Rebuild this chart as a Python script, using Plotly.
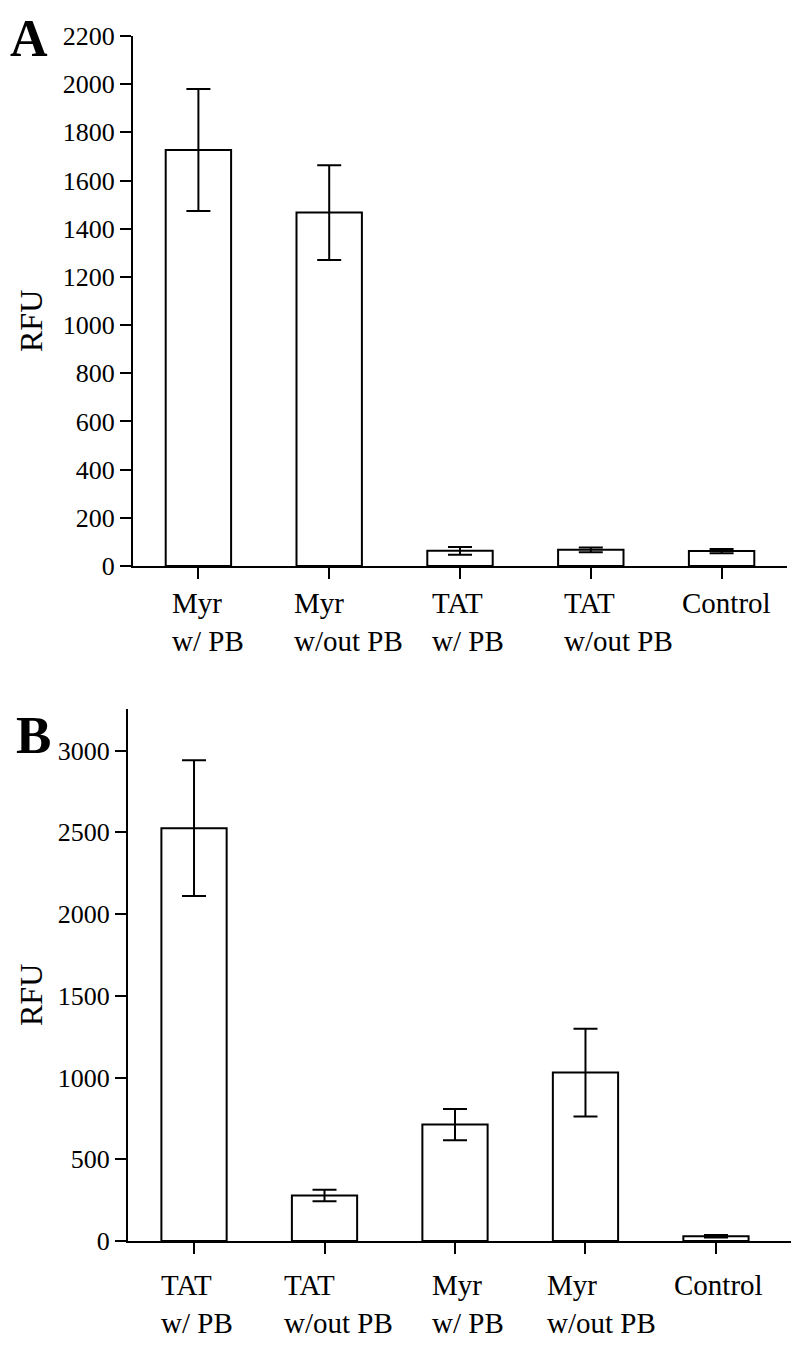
import plotly.graph_objects as go

# ---- data ----
cats_a = ["Myr w/ PB", "Myr w/out PB", "TAT w/ PB", "TAT w/out PB", "Control"]
vals_a = [1727, 1467, 63, 67, 62]
err_a = [253, 197, 16, 10, 9]

cats_b = ["TAT w/ PB", "TAT w/out PB", "Myr w/ PB", "Myr w/out PB", "Control"]
vals_b = [2525, 278, 712, 1030, 29]
err_b = [415, 35, 95, 268, 8]

yticks_a = list(range(0, 2201, 200))
yticks_b = list(range(0, 3001, 500))

# ---- layout constants (page has an 8px body margin) ----
FONT = "Liberation Serif"
OFF = 8
W, H = 800 - 2 * OFF, 1348 - 2 * OFF

def px(x):
    return (x - OFF) / W

def py(y):
    return 1 - (y - OFF) / H

# left-edge offsets of the category label blocks relative to each tick (px)
label_dx_a = [-25, -34, -27, -26, -39]
label_dx_b = [-32, -40, -22, -37, -41]

fig = go.Figure()

def add_bars(cats, vals, errs, xa, ya):
    fig.add_trace(go.Bar(
        x=cats, y=vals, width=0.5, xaxis=xa, yaxis=ya,
        marker=dict(color="white", line=dict(color="black", width=2)),
        error_y=dict(type="data", array=errs, visible=True,
                     color="black", thickness=2, width=12),
        showlegend=False,
    ))

add_bars(cats_a, vals_a, err_a, "x", "y")
add_bars(cats_b, vals_b, err_b, "x2", "y2")

axis_common = dict(showline=True, linecolor="black", linewidth=2,
                   ticks="outside", ticklen=11, tickwidth=2, tickcolor="black",
                   showgrid=False, zeroline=False, automargin=False,
                   tickfont=dict(family=FONT, size=26, color="black"))

fig.update_layout(
    template="none",
    width=W, height=H,
    margin=dict(l=0, r=0, t=0, b=0, pad=0),
    paper_bgcolor="white", plot_bgcolor="white",
    font=dict(family=FONT, color="black"),
    xaxis=dict(domain=[px(133), px(787)], range=[-0.5, 4.5], type="category",
               anchor="y", showticklabels=False, **axis_common),
    yaxis=dict(domain=[py(566), py(36)], range=[0, 2200], tickvals=yticks_a,
               anchor="x", **axis_common),
    xaxis2=dict(domain=[px(128), px(791)], range=[-0.506, 4.575], type="category",
                anchor="y2", showticklabels=False, **axis_common),
    yaxis2=dict(domain=[py(1241), py(709)], range=[0, 3254], tickvals=yticks_b,
                anchor="x2", **axis_common),
)

# category labels (left-aligned two-line blocks under each tick)
def add_labels(cats, dxs, xref, yref, yshift):
    for c, dx in zip(cats, dxs):
        text = "<br>".join(c.split(" ", 1))
        fig.add_annotation(x=c, xref=xref, y=0, yref=yref,
                           xanchor="left", yanchor="top", align="left",
                           xshift=dx - 3, yshift=yshift, showarrow=False, text=text,
                           font=dict(family=FONT, size=29, color="black"))

add_labels(cats_a, label_dx_a, "x", "y domain", -19)
add_labels(cats_b, label_dx_b, "x2", "y2 domain", -26)

# y-axis titles
for yc in (321, 995):
    fig.add_annotation(x=px(31), y=py(yc), xref="paper", yref="paper",
                       xanchor="center", yanchor="middle", textangle=-90,
                       text="RFU", showarrow=False,
                       font=dict(family=FONT, size=32, color="black"))

# panel letters
fig.add_annotation(x=0, y=1, xref="paper", yref="paper", xanchor="left",
                   yanchor="top", text="<b>A</b>", showarrow=False,
                   font=dict(family=FONT, size=52, color="black"))
fig.add_annotation(x=px(18), y=py(735), xref="paper", yref="paper", xanchor="left",
                   yanchor="middle", xshift=-4, text="<b>B</b>", showarrow=False,
                   font=dict(family=FONT, size=53, color="black"))

fig.write_html("out.html")
